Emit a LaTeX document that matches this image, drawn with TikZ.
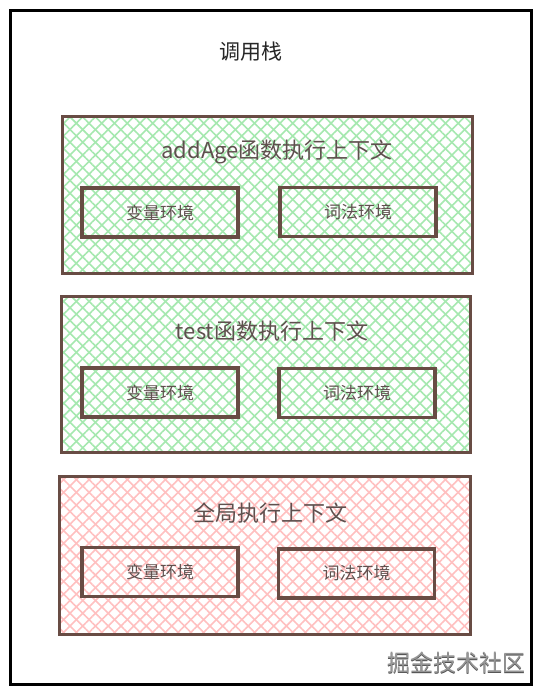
\documentclass[tikz,border=0pt]{standalone}
\usepackage{fontspec}
\newfontfamily\cjk{Noto Sans CJK SC}
\usetikzlibrary{patterns.meta}
\definecolor{boxline}{RGB}{104,76,68}
\definecolor{greenh}{RGB}{165,232,175}
\definecolor{pinkh}{RGB}{255,192,192}
\definecolor{txt}{RGB}{95,80,78}
\definecolor{wm}{RGB}{150,150,150}
\begin{document}
\begin{tikzpicture}[x=1pt,y=-1pt,
  hatchbox/.style={draw=boxline,line width=3pt,inner sep=0pt,
    preaction={pattern={Lines[angle=45,distance=9pt,line width=1.6pt]},pattern color=#1},
    pattern={Lines[angle=-45,distance=9pt,line width=1.6pt]},pattern color=#1},
  envbox/.style={draw=boxline,line width=3.2pt,inner sep=0pt,minimum width=156pt,minimum height=49pt,
    font=\cjk\fontsize{17}{20}\selectfont,text=txt},
  ctxtitle/.style={font=\cjk\fontsize{22}{26}\selectfont,text=txt},
]
\useasboundingbox (0,0) rectangle (551,696);
\fill[white] (0,0) rectangle (551,696);
\node[draw=black,line width=3pt,minimum width=521pt,minimum height=674pt,inner sep=0pt] (frame) at (271,347) {};
\node[font=\cjk\fontsize{21}{24}\selectfont,text=black!85] (stack) at (251,52) {调用栈};

% addAge context
\node[hatchbox=greenh,minimum width=410pt,minimum height=157pt] (c1) at (267,194.5) {};
\node[ctxtitle] (t1) at (277,152) {addAge函数执行上下文};
\node[envbox] (v1) at (160,212.5) {变量环境};
\node[envbox] (l1) at (358,212) {词法环境};

% test context
\node[hatchbox=greenh,minimum width=409pt,minimum height=156pt] (c2) at (265.5,374) {};
\node[ctxtitle] (t2) at (272,331) {test函数执行上下文};
\node[envbox] (v2) at (160,392.5) {变量环境};
\node[envbox] (l2) at (357,393) {词法环境};

% global context
\node[hatchbox=pinkh,minimum width=411pt,minimum height=158pt] (c3) at (264.5,555) {};
\node[ctxtitle] (t3) at (270,513) {全局执行上下文};
\node[envbox] (v3) at (160,572) {变量环境};
\node[envbox] (l3) at (356.5,573.5) {词法环境};

% watermark
\node[font=\cjk\fontsize{23}{26}\selectfont,text=black!70] (wms) at (456.8,663.8) {掘金技术社区};
\node[font=\cjk\fontsize{23}{26}\selectfont,text=wm] (wmk) at (456,663) {掘金技术社区};
\end{tikzpicture}
\end{document}
